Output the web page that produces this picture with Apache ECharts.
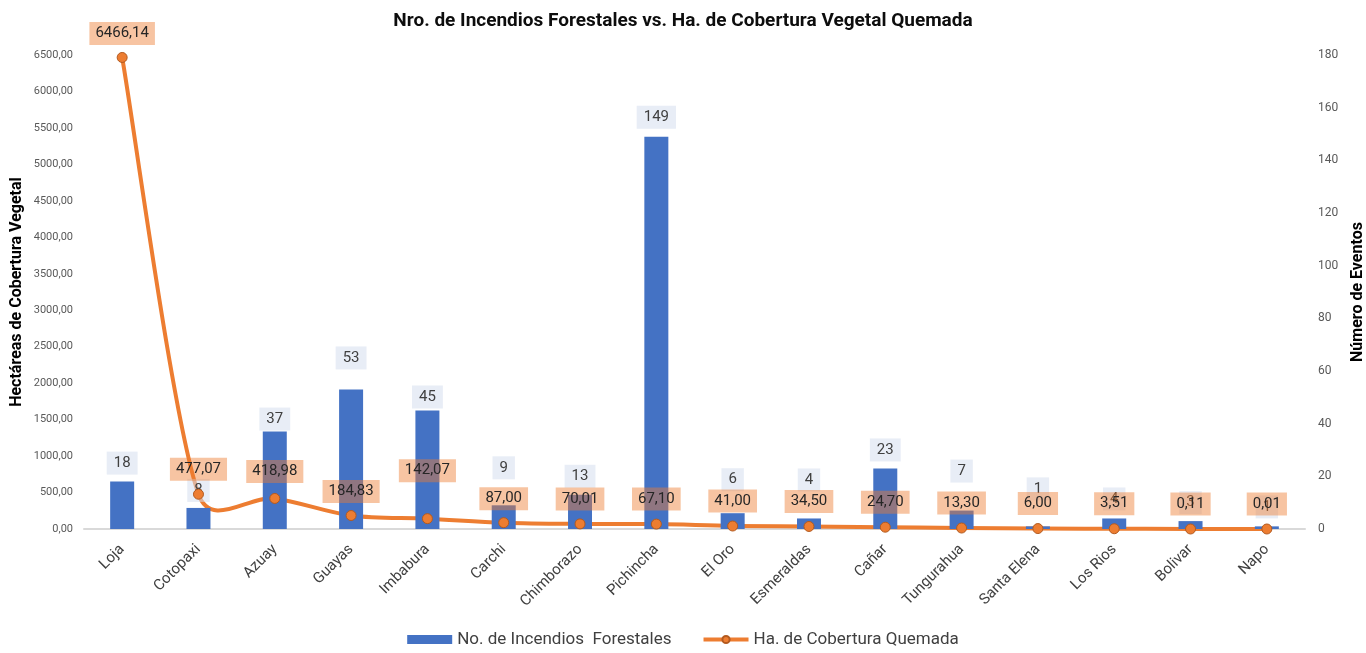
<!DOCTYPE html>
<html>
<head>
<meta charset="utf-8">
<script src="https://cdn.jsdelivr.net/npm/echarts@6/dist/echarts.min.js"></script>
<style>
html,body{margin:0;padding:0;background:#fff;}
#chart{width:1366px;height:653px;}
</style>
</head>
<body>
<div id="chart"></div>
<script>
const categories = ['Loja','Cotopaxi','Azuay','Guayas','Imbabura','Carchi','Chimborazo','Pichincha','El Oro','Esmeraldas','Cañar','Tungurahua','Santa Elena','Los Rios','Bolivar','Napo'];
const incendios = [18, 8, 37, 53, 45, 9, 13, 149, 6, 4, 23, 7, 1, 4, 3, 1];
const hectareas = [6466.14, 477.07, 418.98, 184.83, 142.07, 87.00, 70.01, 67.10, 41.00, 34.50, 24.70, 13.30, 6.00, 3.51, 0.11, 0.01];
const seriesNames = ['No. de Incendios  Forestales', 'Ha. de Cobertura Quemada'];
const titleText = 'Nro. de Incendios Forestales vs. Ha. de Cobertura Vegetal Quemada';
const leftAxisName = 'Hectáreas de Cobertura Vegetal';
const rightAxisName = 'Número de Eventos';

// label placement styling (label gap above each mark, in px)
const barLabelGap  = [7, 6, 1, 20, 2, 26, 7, 8, 22, 27, 7, 28, 26, 8, 7, 8];
const lineLabelGap = [7, 8, 10, 7, 31, 7, 8, 8, 8, 8, 8, 8, 8, 8, 8, 8];

const FONT = 'Roboto';
const ORANGE = '#ED7D31';
const fmt2 = v => Number(v).toFixed(2).replace('.', ',');

// Excel-like smoothed segment between point i and i+1 (drawn via axis coords)
function renderSmoothSegment(params, api) {
  const i = params.dataIndex;
  const n = hectareas.length;
  if (i >= n - 1) return null;
  const P = k => {
    const j = Math.max(0, Math.min(n - 1, k));
    return api.coord([j, hectareas[j]]);
  };
  const p0 = P(i - 1), p1 = P(i), p2 = P(i + 1), p3 = P(i + 2);
  const seg = Math.hypot(p2[0] - p1[0], p2[1] - p1[1]);
  const cap = (v) => {
    const len = Math.hypot(v[0], v[1]);
    const lim = seg / 2;
    if (len > lim && len > 0) return [v[0] * lim / len, v[1] * lim / len];
    return v;
  };
  const t1 = cap([(p2[0] - p0[0]) / 6, (p2[1] - p0[1]) / 6]);
  const t2 = cap([(p3[0] - p1[0]) / 6, (p3[1] - p1[1]) / 6]);
  return {
    type: 'bezierCurve',
    shape: {
      x1: p1[0], y1: p1[1], x2: p2[0], y2: p2[1],
      cpx1: p1[0] + t1[0], cpy1: p1[1] + t1[1],
      cpx2: p2[0] - t2[0], cpy2: p2[1] - t2[1]
    },
    style: {fill: null, stroke: ORANGE, lineWidth: 4, lineCap: 'round'},
    silent: true
  };
}

const chart = echarts.init(document.getElementById('chart'), null, {renderer: 'canvas'});
chart.setOption({
  animation: false,
  backgroundColor: '#ffffff',
  textStyle: {fontFamily: FONT},
  title: {
    text: titleText,
    left: 'center',
    top: 7,
    textStyle: {fontFamily: FONT, fontSize: 19, fontWeight: 'bold', color: '#0d0d0d'}
  },
  legend: {
    bottom: 0,
    left: 'center',
    itemWidth: 45,
    itemHeight: 9,
    itemGap: 30,
    textStyle: {fontFamily: FONT, fontSize: 17, color: '#404040'},
    data: [
      {name: seriesNames[0], icon: 'rect'},
      {name: seriesNames[1], lineStyle: {color: ORANGE, width: 4, opacity: 1}}
    ]
  },
  grid: {left: 84, right: 61, top: 55, bottom: 124, containLabel: false, outerBoundsMode: 'none'},
  xAxis: {
    type: 'category',
    data: categories,
    axisLine: {lineStyle: {color: '#d9d9d9', width: 2}},
    axisTick: {show: false},
    axisLabel: {interval: 0, rotate: 45, margin: 18, fontFamily: FONT, fontSize: 15, color: '#404040'}
  },
  yAxis: [
    {
      type: 'value', min: 0, max: 6500, interval: 500,
      position: 'left',
      name: leftAxisName, nameLocation: 'middle', nameGap: 59, nameRotate: 90, nameMoveOverlap: false,
      nameTextStyle: {fontFamily: FONT, fontSize: 16, fontWeight: 'bold', color: '#000'},
      axisLine: {show: false}, axisTick: {show: false}, splitLine: {show: false},
      axisLabel: {formatter: fmt2, margin: 11, fontFamily: FONT, fontSize: 11, color: '#595959'}
    },
    {
      type: 'value', min: 0, max: 180, interval: 20,
      position: 'right',
      name: rightAxisName, nameLocation: 'middle', nameGap: 45, nameRotate: 90, nameMoveOverlap: false,
      nameTextStyle: {fontFamily: FONT, fontSize: 16, fontWeight: 'bold', color: '#000'},
      axisLine: {show: false}, axisTick: {show: false}, splitLine: {show: false},
      axisLabel: {margin: 13, fontFamily: FONT, fontSize: 12, color: '#595959'}
    }
  ],
  series: [
    {
      name: seriesNames[0],
      type: 'bar',
      yAxisIndex: 1,
      data: incendios.map((v, i) => ({value: v, label: {distance: barLabelGap[i]}})),
      barWidth: 24,
      itemStyle: {color: '#4472C4'},
      z: 2,
      label: {
        show: true, position: 'top', distance: 7,
        fontFamily: FONT, fontSize: 15, color: '#404040',
        backgroundColor: 'rgba(214,222,238,0.55)', padding: [4, 7]
      }
    },
    {
      type: 'custom',
      yAxisIndex: 0,
      data: hectareas,
      renderItem: renderSmoothSegment,
      silent: true,
      z: 2
    },
    {
      name: seriesNames[1],
      type: 'line',
      yAxisIndex: 0,
      data: hectareas.map((v, i) => ({value: v, label: {distance: lineLabelGap[i]}})),
      symbol: 'circle',
      symbolSize: 10,
      lineStyle: {color: ORANGE, width: 4, opacity: 0},
      itemStyle: {color: ORANGE, borderColor: '#b35a1f', borderWidth: 1},
      z: 2,
      label: {
        show: true, position: 'top', distance: 7,
        formatter: p => fmt2(p.value),
        fontFamily: FONT, fontSize: 15, color: '#262626',
        backgroundColor: 'rgba(237,125,49,0.45)', padding: [4, 6]
      }
    }
  ]
});
</script>
</body>
</html>
